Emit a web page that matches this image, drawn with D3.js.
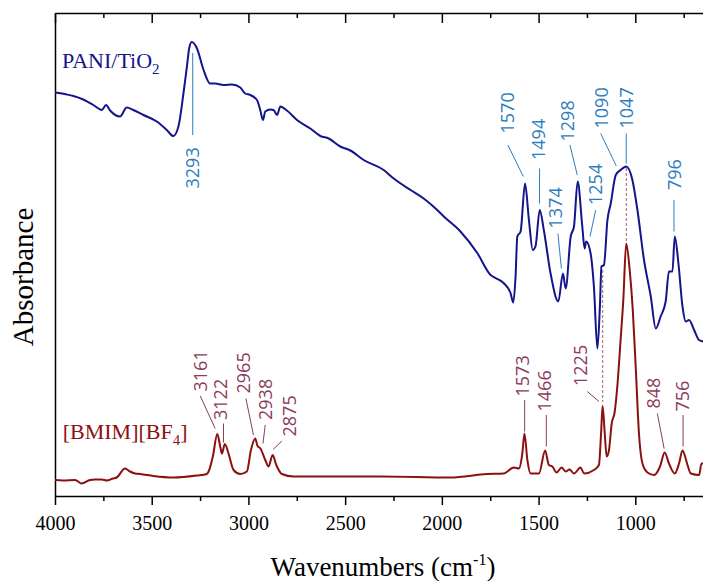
<!DOCTYPE html>
<html>
<head>
<meta charset="utf-8">
<script src="https://cdnjs.cloudflare.com/ajax/libs/d3/7.8.5/d3.min.js"></script>
<style>
  body { margin: 0; background: #fff; }
  svg { display: block; }
  .axis path, .axis line { stroke: #000; stroke-width: 1.5; }
  .axis text { font-family: "Liberation Serif", "Times New Roman", serif; font-size: 20px; fill: #000; }
  .peak { font-family: "Open Sans", "Liberation Sans", sans-serif; font-size: 18px; }
</style>
</head>
<body>
<div id="chart"></div>
<script>
// PANI/TiO2 spectrum: wavenumber (cm-1) and absorbance (a.u.)
const paniWn = [4000,3939,3905,3854,3802,3758,3736,3715,3664,3629,3595,3543,3474,3422,3388,3362,3336,3318,3306,3293,
  3267,3232,3198,3172,3129,3085,3042,3017,2991,2956,2939,2925,2913,2887,2870,2852,2835,2801,2749,2680,
  2628,2585,2525,2473,2404,2301,2249,2162,2094,2024,1990,1904,1817,1748,1723,1681,1645,1631,1619,1610,
  1593,1570,1550,1530,1516,1494,1473,1438,1398,1374,1360,1334,1317,1298,1274,1262,1254,1231,1214,1196,
  1183,1175,1162,1144,1127,1101,1076,1047,1015,989,955,920,894,869,843,826,808,796,777,756,
  739,722,696,670,646];
const paniAbs = [0.807,0.803,0.800,0.793,0.782,0.772,0.782,0.771,0.759,0.777,0.772,0.762,0.749,0.732,0.720,0.739,0.805,0.859,0.896,0.908,
  0.896,0.852,0.825,0.825,0.822,0.823,0.817,0.805,0.802,0.792,0.772,0.752,0.769,0.773,0.772,0.762,0.779,0.771,0.752,0.735,
  0.720,0.715,0.699,0.691,0.672,0.652,0.635,0.612,0.595,0.572,0.559,0.529,0.486,0.442,0.436,0.426,0.406,0.387,0.439,0.519,
  0.529,0.625,0.552,0.492,0.499,0.572,0.532,0.445,0.389,0.445,0.415,0.519,0.539,0.629,0.539,0.495,0.509,0.485,0.419,0.295,
  0.379,0.459,0.462,0.552,0.585,0.642,0.652,0.659,0.632,0.572,0.472,0.399,0.335,0.359,0.389,0.449,0.449,0.519,0.465,0.379,
  0.349,0.352,0.332,0.312,0.309];

// [BMIM][BF4] spectrum
const bmimWn = [4000,3959,3896,3862,3819,3793,3758,3732,3700,3681,3638,3612,3586,3560,3491,3388,3267,3215,3206,3184,
  3161,3146,3137,3122,3103,3077,3042,3008,2987,2965,2953,2938,2913,2896,2875,2856,2827,2767,2318,1955,
  1766,1680,1628,1602,1584,1573,1558,1541,1498,1466,1447,1429,1407,1381,1360,1340,1317,1283,1265,1214,
  1188,1177,1169,1158,1148,1136,1122,1107,1093,1076,1062,1047,1029,1013,998,981,963,937,903,872,
  848,826,796,774,756,730,713,670,658,646];
const bmimAbs = [0.032,0.031,0.032,0.025,0.032,0.033,0.033,0.031,0.035,0.037,0.055,0.049,0.045,0.044,0.040,0.037,0.041,0.044,0.049,0.079,
  0.124,0.099,0.085,0.104,0.085,0.052,0.044,0.049,0.092,0.115,0.100,0.095,0.072,0.059,0.082,0.062,0.044,0.039,0.039,0.037,
  0.044,0.045,0.057,0.055,0.085,0.125,0.072,0.045,0.045,0.091,0.062,0.059,0.047,0.057,0.049,0.053,0.045,0.057,0.045,0.052,
  0.062,0.125,0.180,0.125,0.079,0.092,0.145,0.167,0.219,0.312,0.392,0.505,0.452,0.372,0.259,0.125,0.065,0.047,0.042,0.059,
  0.087,0.065,0.045,0.065,0.091,0.062,0.045,0.042,0.065,0.065];

// axis ticks
const majorTicks = [4000, 3500, 3000, 2500, 2000, 1500, 1000];
const minorTicks = [3750, 3250, 2750, 2250, 1750, 1250, 750];

// peak annotations: label, text anchor (wn, abs), leader line (wn, abs) -> (wn, abs)
const paniPeaks = [
  {label: "3293", tx: 3288, ty: 0.615, x1: 3288, y1: 0.722, x2: 3288, y2: 0.886},
  {label: "1570", tx: 1662, ty: 0.725, x1: 1659, y1: 0.702, x2: 1579, y2: 0.639},
  {label: "1494", tx: 1498, ty: 0.672, x1: 1495, y1: 0.655, x2: 1495, y2: 0.585},
  {label: "1374", tx: 1412, ty: 0.535, x1: 1400, y1: 0.525, x2: 1382, y2: 0.455},
  {label: "1298", tx: 1350, ty: 0.709, x1: 1338, y1: 0.702, x2: 1300, y2: 0.642},
  {label: "1254", tx: 1208, ty: 0.582, x1: 1205, y1: 0.572, x2: 1234, y2: 0.519},
  {label: "1090", tx: 1177, ty: 0.735, x1: 1179, y1: 0.725, x2: 1098, y2: 0.660},
  {label: "1047", tx: 1047, ty: 0.735, x1: 1047, y1: 0.725, x2: 1047, y2: 0.665},
  {label: "796",  tx: 798,  ty: 0.612, x1: 800,  y1: 0.592, x2: 800,  y2: 0.529}
];
const bmimPeaks = [
  {label: "3161", tx: 3249, ty: 0.209, x1: 3249, y1: 0.200, x2: 3172, y2: 0.135},
  {label: "3122", tx: 3144, ty: 0.152, x1: 3129, y1: 0.145, x2: 3129, y2: 0.107},
  {label: "2965", tx: 3025, ty: 0.205, x1: 3013, y1: 0.195, x2: 2974, y2: 0.122},
  {label: "2938", tx: 2910, ty: 0.152, x1: 2913, y1: 0.142, x2: 2925, y2: 0.105},
  {label: "2875", tx: 2789, ty: 0.119, x1: 2827, y1: 0.110, x2: 2873, y2: 0.093},
  {label: "1573", tx: 1583, ty: 0.199, x1: 1572, y1: 0.192, x2: 1572, y2: 0.129},
  {label: "1466", tx: 1469, ty: 0.169, x1: 1460, y1: 0.162, x2: 1460, y2: 0.099},
  {label: "1225", tx: 1281, ty: 0.220, x1: 1248, y1: 0.209, x2: 1188, y2: 0.189},
  {label: "848",  tx: 906,  ty: 0.175, x1: 886,  y1: 0.165, x2: 851,  y2: 0.095},
  {label: "756",  tx: 756,  ty: 0.169, x1: 753,  y1: 0.162, x2: 753,  y2: 0.099}
];
// dashed guides linking the two spectra
const guides = [
  {wn: 1169, y1: 0.452, y2: 0.188},
  {wn: 1046, y1: 0.656, y2: 0.506}
];

const width = 703, height = 581;
const blue = "#14148c", blueLab = "#2d7dbc";
const red = "#8b1010", redLab = "#8c3b5c";
const serif = "'Liberation Serif', 'Times New Roman', serif";

const svg = d3.select("#chart").append("svg")
  .attr("width", width)
  .attr("height", height);

const x = d3.scaleLinear().domain([4000, 650]).range([55, 703]);
const y = d3.scaleLinear().domain([0, 0.966]).range([496, 13]);

svg.append("clipPath").attr("id", "clip")
  .append("rect").attr("x", 55).attr("y", 13).attr("width", 648).attr("height", 483);

// axes
svg.append("g").attr("class", "axis")
  .attr("transform", "translate(0,496)")
  .call(d3.axisBottom(x).tickValues(majorTicks).tickFormat(d3.format("d"))
    .tickSize(9).tickSizeOuter(0).tickPadding(11));
svg.append("g").attr("class", "axis")
  .attr("transform", "translate(0,496)")
  .call(d3.axisBottom(x).tickValues(minorTicks).tickFormat("").tickSize(5).tickSizeOuter(0))
  .select(".domain").remove();

// top axis, ticks pointing inward
svg.append("g").attr("class", "axis")
  .attr("transform", "translate(0,13)")
  .call(d3.axisBottom(x).tickValues(majorTicks).tickFormat("").tickSize(10).tickSizeOuter(0));
svg.append("g").attr("class", "axis")
  .attr("transform", "translate(0,13)")
  .call(d3.axisBottom(x).tickValues(minorTicks).tickFormat("").tickSize(5).tickSizeOuter(0))
  .select(".domain").remove();

svg.append("g").attr("class", "axis")
  .attr("transform", "translate(55,0)")
  .call(d3.axisLeft(y).tickValues([]).tickSizeOuter(0));

// axis titles
const xTitle = svg.append("text")
  .attr("x", 383).attr("y", 576)
  .attr("text-anchor", "middle")
  .style("font-family", serif)
  .style("font-size", "27px");
xTitle.append("tspan").text("Wavenumbers (cm");
xTitle.append("tspan").attr("dy", -11).style("font-size", "16px").text("-1");
xTitle.append("tspan").attr("dy", 11).text(")");

svg.append("text")
  .attr("transform", "translate(33,277) rotate(-90)")
  .attr("text-anchor", "middle")
  .style("font-family", serif)
  .style("font-size", "29px")
  .text("Absorbance");

// guides
svg.selectAll(".guide").data(guides).enter().append("line")
  .attr("class", "guide")
  .attr("x1", d => x(d.wn)).attr("x2", d => x(d.wn))
  .attr("y1", d => y(d.y1)).attr("y2", d => y(d.y2))
  .attr("stroke", "#b3808e").attr("stroke-width", 1.3)
  .attr("stroke-dasharray", "3,2");

// spectra
const line = d3.line().x(d => x(d[0])).y(d => y(d[1])).curve(d3.curveMonotoneX);

svg.append("path")
  .datum(d3.zip(bmimWn, bmimAbs))
  .attr("clip-path", "url(#clip)")
  .attr("fill", "none").attr("stroke", red).attr("stroke-width", 2)
  .attr("d", line);

svg.append("path")
  .datum(d3.zip(paniWn, paniAbs))
  .attr("clip-path", "url(#clip)")
  .attr("fill", "none").attr("stroke", blue).attr("stroke-width", 2)
  .attr("d", line);

// peak labels
function drawPeaks(data, color) {
  const g = svg.append("g");
  g.selectAll("line").data(data).enter().append("line")
    .attr("x1", d => x(d.x1)).attr("y1", d => y(d.y1))
    .attr("x2", d => x(d.x2)).attr("y2", d => y(d.y2))
    .attr("stroke", color).attr("stroke-width", 1);
  g.selectAll("text").data(data).enter().append("text")
    .attr("class", "peak")
    .attr("transform", d => `translate(${x(d.tx)},${y(d.ty)}) rotate(-90)`)
    .attr("dy", "0.36em")
    .attr("fill", color)
    .text(d => d.label);
}
drawPeaks(paniPeaks, blueLab);
drawPeaks(bmimPeaks, redLab);

// series names
const paniName = svg.append("text")
  .attr("x", x(3964)).attr("y", y(0.856))
  .attr("fill", blue)
  .style("font-family", serif).style("font-size", "22px");
paniName.append("tspan").text("PANI/TiO");
paniName.append("tspan").attr("dy", 6).style("font-size", "15px").text("2");

const bmimName = svg.append("text")
  .attr("x", x(3960)).attr("y", y(0.115))
  .attr("fill", red)
  .style("font-family", serif).style("font-size", "22px");
bmimName.append("tspan").text("[BMIM][BF");
bmimName.append("tspan").attr("dy", 6).style("font-size", "15px").text("4");
bmimName.append("tspan").attr("dy", -6).text("]");
</script>
</body>
</html>
